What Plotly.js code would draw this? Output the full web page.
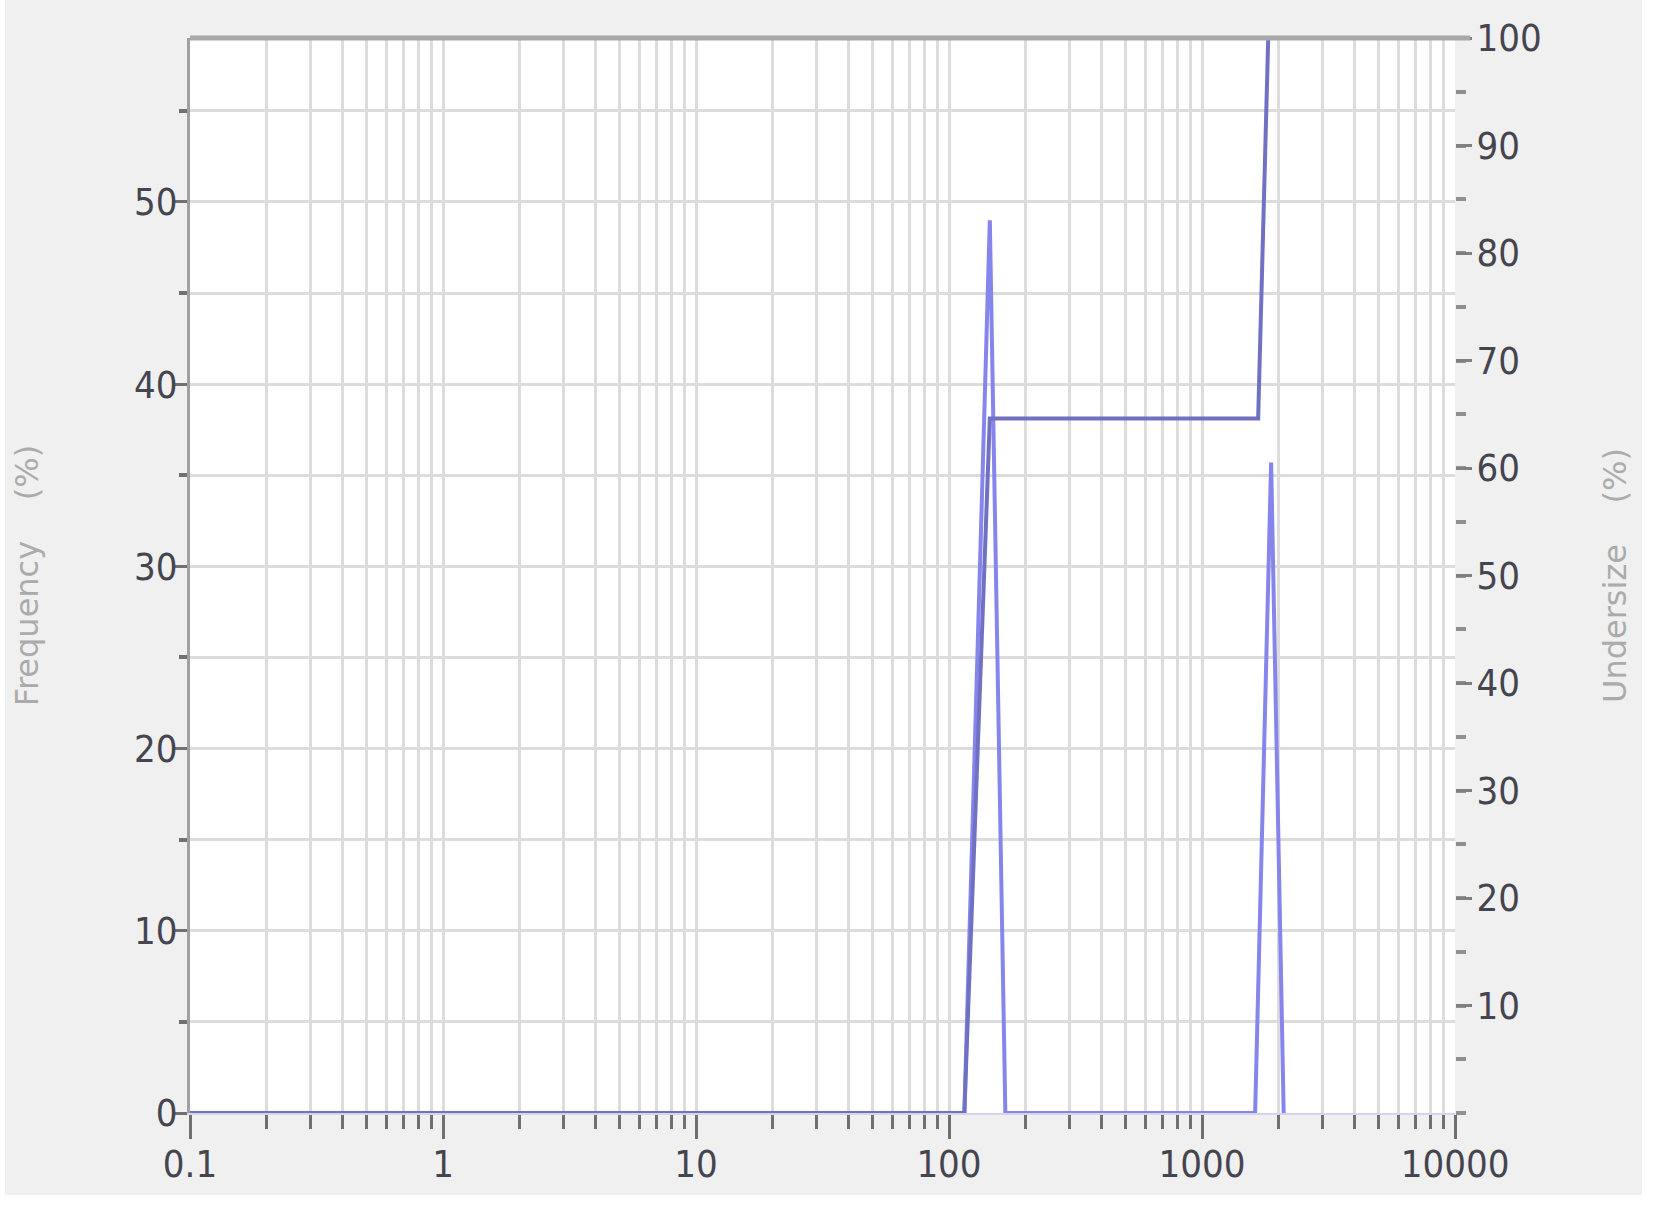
<!DOCTYPE html>
<html>
<head>
<meta charset="utf-8">
<script src="https://cdn.plot.ly/plotly-3.0.1.min.js"></script>
<style>
  body { margin: 0; background: #ffffff; }
  #chart { position: absolute; left: 5px; top: 0px; width: 1637px; height: 1195px; }
</style>
</head>
<body>
<div id="chart"></div>
<script>
// particle size (um), log scale
var freqSize = [0.1, 115, 145, 167, 1622, 1876, 2103];
var freqPct = [0, 0, 49, 0, 0, 35.7, 0];
var underSize = [0.1, 115, 145, 1667, 1827, 2103];
var underPct = [0, 0, 64.6, 64.6, 100, 100];

var xTickVals = [0.1, 1, 10, 100, 1000, 10000];
var xTickText = ["0.1", "1", "10", "100", "1000", "10000"];
var rightTickVals = [10, 20, 30, 40, 50, 60, 70, 80, 90, 100];

// minor log ticks 2..9 in each decade
var minorVals = [];
for (var d = 0; d < 5; d++) {
  for (var m = 2; m <= 9; m++) {
    minorVals.push(m * Math.pow(10, d - 1));
  }
}

var tickFont = {family: "DejaVu Sans Condensed, Liberation Sans, sans-serif", size: 38, color: "#45454f"};
var titleFont = {family: "DejaVu Sans, sans-serif", size: 32, color: "#ababab"};
var gridColor = "#dcdcdc";

var traceData = [
  {
    x: freqSize,
    y: freqPct,
    mode: "lines",
    yaxis: "y",
    name: "Frequency",
    line: {color: "#8585ec", width: 4},
    showlegend: false
  },
  {
    x: underSize,
    y: underPct,
    mode: "lines",
    yaxis: "y2",
    name: "Undersize",
    line: {color: "#7171c4", width: 4},
    showlegend: false
  }
];

var traceLayout = {
  width: 1637,
  height: 1195,
  paper_bgcolor: "#f0f0f0",
  plot_bgcolor: "#ffffff",
  margin: {l: 185, r: 187, t: 38, b: 82, pad: 0},
  xaxis: {
    type: "log",
    range: [-1, 4],
    tickvals: xTickVals,
    ticktext: xTickText,
    ticks: "outside",
    ticklen: 24,
    tickwidth: 3,
    tickcolor: "#707070",
    tickfont: tickFont,
    ticklabelstandoff: -8,
    showgrid: true,
    gridcolor: gridColor,
    gridwidth: 3,
    zeroline: false,
    showline: true,
    linecolor: "#d4d4ec",
    linewidth: 2,
    minor: {
      tickvals: minorVals,
      ticks: "outside",
      ticklen: 14,
      tickwidth: 3,
      tickcolor: "#707070",
      showgrid: true,
      gridcolor: gridColor,
      gridwidth: 3
    }
  },
  yaxis: {
    range: [0, 59],
    tick0: 0,
    dtick: 10,
    ticks: "outside",
    ticklen: 14,
    tickwidth: 3,
    tickcolor: "#707070",
    tickfont: tickFont,
    ticklabelstandoff: -12,
    showgrid: true,
    gridcolor: gridColor,
    gridwidth: 3,
    zeroline: false,
    showline: true,
    linecolor: "#a0a0a0",
    linewidth: 3,
    title: {text: "Frequency    (%)", font: titleFont, standoff: 86},
    minor: {
      dtick: 5,
      ticks: "outside",
      ticklen: 8,
      tickwidth: 4,
      tickcolor: "#707070",
      showgrid: true,
      gridcolor: gridColor,
      gridwidth: 3
    }
  },
  yaxis2: {
    overlaying: "y",
    side: "right",
    range: [0, 100],
    tickvals: rightTickVals,
    ticks: "outside",
    ticklen: 16,
    tickwidth: 3,
    tickcolor: "#808080",
    tickfont: tickFont,
    ticklabelstandoff: -3,
    showgrid: false,
    zeroline: false,
    showline: false,
    title: {text: "Undersize    (%)", font: titleFont, standoff: 62},
    minor: {
      dtick: 5,
      ticks: "outside",
      ticklen: 10,
      tickwidth: 4,
      tickcolor: "#909090",
      showgrid: false
    }
  },
  shapes: [
    {
      type: "line", xref: "paper", yref: "paper",
      x0: 0, x1: 1.012, y0: 1, y1: 1,
      line: {color: "#a8a8a8", width: 5}
    }
  ],
  font: {family: "DejaVu Sans Condensed, sans-serif"}
};

Plotly.newPlot("chart", traceData, traceLayout, {displayModeBar: false, responsive: false});
</script>
</body>
</html>
